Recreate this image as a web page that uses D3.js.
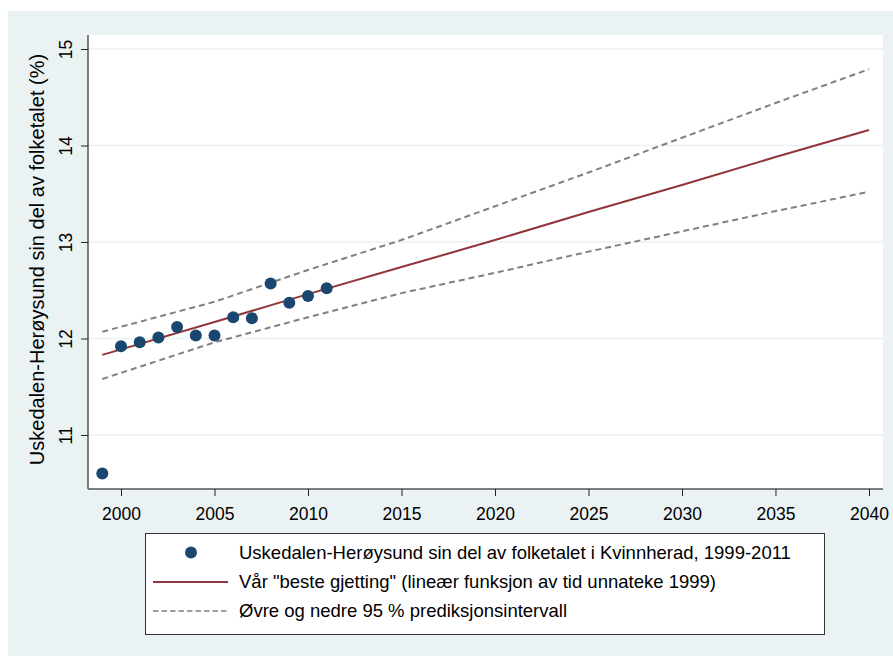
<!DOCTYPE html>
<html><head><meta charset="utf-8">
<script src="https://cdn.jsdelivr.net/npm/d3@7"></script>
<style>body{margin:0;background:#fff}svg{display:block}text{font-family:"Liberation Sans",Arial,sans-serif;fill:#000}</style>
</head><body>
<svg id="c" width="893" height="656"></svg>
<script>
const obsYears = [1999,2000,2001,2002,2003,2004,2005,2006,2007,2008,2009,2010,2011];
const obsValues = [10.60,11.92,11.96,12.01,12.12,12.03,12.03,12.22,12.21,12.57,12.37,12.44,12.52];
const lineYears = [1999,2005,2010,2015,2020,2025,2030,2035,2040];
const fitValues = [11.83,12.17,12.46,12.74,13.02,13.31,13.59,13.88,14.16];
const upperValues = [12.07,12.38,12.71,13.02,13.37,13.72,14.08,14.44,14.79];
const lowerValues = [11.58,11.96,12.22,12.47,12.68,12.90,13.11,13.32,13.52];
const xTicks = [2000,2005,2010,2015,2020,2025,2030,2035,2040];
const yTicks = [11,12,13,14,15];
const yTitle = "Uskedalen-Herøysund sin del av folketalet (%)";
const legendLabels = ["Uskedalen-Herøysund sin del av folketalet i Kvinnherad, 1999-2011",
  "Vår \"beste gjetting\" (lineær funksjon av tid unnateke 1999)",
  "Øvre og nedre 95 % prediksjonsintervall"];

const svg = d3.select("#c");
const bg = "#eaf2f3", navy = "#1a476f", maroon = "#90353b", grey = "#808080";
const FF = "'Liberation Sans',Arial,sans-serif";
svg.append("rect").attr("x",8).attr("y",11).attr("width",885).attr("height",645).attr("fill",bg);
const L=88, R=883, T=35, B=489;
const x = d3.scaleLinear().domain([1998.235,2040.75]).range([L,R]);
const y = d3.scaleLinear().domain([10.44,15.145]).range([B,T]);
svg.append("rect").attr("x",L).attr("y",T).attr("width",R-L).attr("height",B-T).attr("fill","#fff");
// grid
svg.append("g").selectAll("line").data(yTicks).join("line")
  .attr("x1",L).attr("x2",R).attr("y1",d=>y(d)).attr("y2",d=>y(d))
  .attr("stroke",bg).attr("stroke-width",1.5);
// axes
const ya = svg.append("g").attr("transform",`translate(${L},0)`)
  .call(d3.axisLeft(y).tickValues(yTicks).tickSize(7).tickFormat(d3.format("d")));
ya.attr("font-size",null).attr("font-family",null);
ya.select(".domain").attr("d",`M0,${T}V${B}`).attr("stroke","#555").attr("stroke-width",1.5);
ya.selectAll(".tick line").attr("stroke","#222");
ya.selectAll(".tick text").style("font-size","17.5px").attr("transform","rotate(-90)")
  .attr("x",0).attr("y",-16).attr("dy","0").attr("text-anchor","middle")
  .style("font-family",FF).attr("fill","#000");
const xa = svg.append("g").attr("transform",`translate(0,${B})`)
  .call(d3.axisBottom(x).tickValues(xTicks).tickSize(7).tickFormat(d3.format("d")));
xa.attr("font-size",null).attr("font-family",null);
xa.select(".domain").attr("d",`M${L},0H${R}`).attr("stroke","#555").attr("stroke-width",1.5);
xa.selectAll(".tick line").attr("stroke","#222");
xa.selectAll(".tick text").style("font-size","17.5px").attr("y",31).attr("dy","0")
  .style("font-family",FF).attr("fill","#000");
svg.append("text").attr("transform",`translate(43.5,259.5) rotate(-90)`)
  .attr("text-anchor","middle").style("font-size","20px").text(yTitle);
// lines
const line = vals => d3.line().x((d,i)=>x(lineYears[i])).y(d=>y(d))(vals);
svg.append("path").attr("d",line(upperValues)).attr("fill","none").attr("stroke",grey).attr("stroke-width",2).attr("stroke-dasharray","6,4");
svg.append("path").attr("d",line(lowerValues)).attr("fill","none").attr("stroke",grey).attr("stroke-width",2).attr("stroke-dasharray","6,4");
svg.append("path").attr("d",line(fitValues)).attr("fill","none").attr("stroke",maroon).attr("stroke-width",2);
svg.append("g").selectAll("circle").data(obsValues).join("circle")
  .attr("cx",(d,i)=>x(obsYears[i])).attr("cy",d=>y(d)).attr("r",6).attr("fill",navy);
// legend
const lg = svg.append("g");
lg.append("rect").attr("x",145.5).attr("y",533.5).attr("width",679).attr("height",101).attr("fill","#fff").attr("stroke","#333").attr("stroke-width",1);
const rowsY = [552.5,582,611];
lg.append("circle").attr("cx",191).attr("cy",rowsY[0]).attr("r",6).attr("fill",navy);
lg.append("line").attr("x1",153).attr("x2",228).attr("y1",rowsY[1]).attr("y2",rowsY[1]).attr("stroke",maroon).attr("stroke-width",2);
lg.append("line").attr("x1",153).attr("x2",228).attr("y1",rowsY[2]).attr("y2",rowsY[2]).attr("stroke",grey).attr("stroke-width",1.5).attr("stroke-dasharray","5.5,3");
lg.selectAll("text").data(legendLabels).join("text")
  .attr("x",239).attr("y",(d,i)=>rowsY[i]).attr("dy","0.35em").style("font-size","18.5px").text(d=>d);
</script>
</body></html>
